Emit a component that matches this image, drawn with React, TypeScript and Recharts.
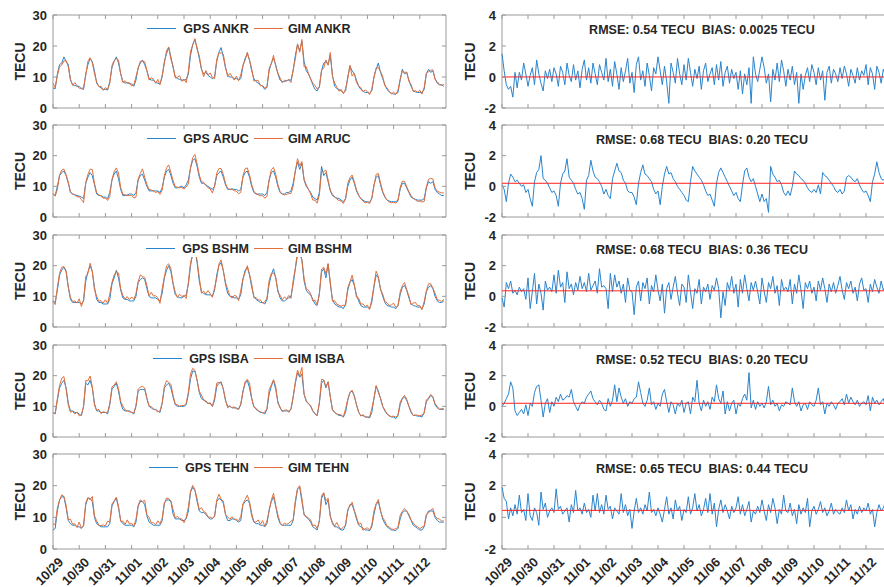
import React from 'react';
import { LineChart, Line, XAxis, YAxis, ReferenceArea, ReferenceLine, Legend } from 'recharts';

const stations = ['ANKR', 'ARUC', 'BSHM', 'ISBA', 'TEHN'];
const dateLabels = ['10/29', '10/30', '10/31', '11/01', '11/02', '11/03', '11/04', '11/05', '11/06', '11/07', '11/08', '11/09', '11/10', '11/11', '11/12'];
const rmseText = ['0.54', '0.68', '0.68', '0.52', '0.65'];
const biasText = ['0.0025', '0.20', '0.36', '0.20', '0.44'];
const biasValues = [0.0025, 0.2, 0.36, 0.2, 0.44];

// GPS TEC, every 2 hours (one line per day)
const gpsANKR = [
  6.5, 6.2, 11.0, 14.0, 14.5, 16.5, 15.0, 14.0, 9.0, 7.5, 7.3, 7.0,
  7.0, 6.2, 6.0, 11.0, 14.0, 16.0, 15.0, 12.0, 8.0, 7.0, 6.5, 6.0,
  6.0, 5.8, 8.5, 13.0, 15.0, 16.5, 14.5, 11.0, 8.5, 8.0, 8.2, 7.8,
  7.8, 7.0, 9.0, 13.0, 14.5, 15.5, 14.0, 12.0, 9.5, 9.0, 9.0, 8.2,
  8.0, 7.8, 10.0, 15.0, 17.5, 19.5, 16.5, 13.0, 10.0, 9.5, 9.2, 9.0,
  9.0, 9.2, 11.0, 17.0, 20.5, 22.0, 19.5, 16.0, 12.5, 11.0, 11.5, 10.5,
  10.0, 9.5, 10.0, 15.0, 18.0, 19.5, 16.5, 13.0, 10.5, 10.0, 10.0, 9.5,
  9.5, 9.0, 9.5, 13.5, 16.0, 17.5, 15.5, 12.0, 9.5, 8.5, 8.0, 7.5,
  7.0, 6.0, 7.0, 12.0, 14.5, 16.0, 14.0, 11.0, 9.0, 8.5, 8.5, 8.8,
  9.0, 9.0, 12.0, 17.0, 20.5, 18.5, 21.5, 15.0, 12.0, 11.0, 9.5, 7.5,
  6.0, 5.5, 7.0, 12.0, 14.5, 15.0, 14.0, 17.0, 10.5, 7.0, 6.3, 6.0,
  5.5, 4.8, 5.5, 10.0, 13.5, 12.0, 11.0, 9.0, 7.0, 6.0, 5.5, 5.0,
  5.0, 4.8, 5.5, 10.0, 12.5, 14.5, 11.5, 9.5, 7.5, 6.0, 5.2, 4.8,
  4.5, 4.5, 5.0, 9.0, 12.5, 11.0, 11.5, 9.0, 7.0, 5.5, 5.2, 5.0,
  5.0, 5.0, 6.0, 11.0, 12.5, 11.5, 12.0, 9.5, 8.0, 7.5, 7.5, 7.0,
];
const gpsARUC = [
  7.5, 7.0, 10.0, 13.5, 14.5, 15.0, 13.5, 11.0, 8.0, 7.5, 7.2, 7.0,
  6.8, 6.5, 6.0, 11.0, 13.0, 14.5, 13.5, 10.5, 7.5, 7.0, 7.0, 6.5,
  6.5, 6.0, 8.0, 12.0, 14.0, 15.0, 12.5, 9.0, 7.0, 7.0, 7.2, 7.5,
  7.5, 7.0, 8.0, 12.0, 13.5, 14.0, 12.0, 10.0, 8.5, 8.5, 8.5, 8.5,
  8.5, 8.0, 9.5, 13.0, 15.0, 15.5, 13.5, 11.0, 9.5, 9.5, 9.8, 10.0,
  9.5, 10.5, 12.0, 16.0, 18.5, 19.0, 16.5, 13.0, 11.0, 11.0, 10.5, 10.0,
  9.5, 9.0, 10.0, 13.5, 14.5, 15.0, 13.0, 10.5, 9.0, 9.0, 9.2, 9.0,
  9.0, 8.5, 9.0, 13.0, 14.5, 15.0, 13.0, 10.0, 8.0, 7.5, 7.5, 7.5,
  7.5, 7.0, 8.0, 12.0, 14.5, 15.0, 13.0, 10.0, 8.0, 7.5, 7.5, 8.0,
  8.0, 8.5, 11.0, 15.0, 18.0, 15.5, 17.5, 12.0, 10.0, 9.0, 8.0, 6.5,
  6.0, 5.5, 8.0, 16.5, 13.5, 14.5, 11.5, 8.5, 7.0, 6.5, 6.2, 6.0,
  5.5, 5.0, 6.0, 10.0, 12.0, 13.0, 11.0, 8.5, 7.0, 6.0, 5.5, 5.0,
  5.0, 4.8, 6.0, 10.5, 13.0, 13.5, 10.5, 8.0, 6.5, 5.5, 5.2, 5.0,
  5.0, 5.0, 5.5, 9.0, 11.0, 11.0, 9.5, 8.0, 6.5, 6.0, 5.8, 5.5,
  5.5, 5.5, 6.0, 9.5, 11.5, 11.0, 11.5, 9.0, 8.0, 7.5, 7.0, 7.0,
];
const gpsBSHM = [
  8.5, 8.0, 12.0, 17.0, 18.5, 19.5, 18.0, 13.0, 9.0, 8.0, 8.0, 8.0,
  8.0, 7.5, 8.5, 15.0, 18.0, 20.0, 18.0, 13.0, 9.0, 8.0, 8.0, 7.5,
  7.5, 7.5, 9.0, 14.0, 16.0, 18.5, 16.0, 12.0, 9.5, 9.0, 9.0, 8.5,
  8.5, 8.5, 10.0, 14.5, 15.5, 16.0, 15.5, 12.5, 10.0, 9.5, 9.5, 9.5,
  9.0, 8.5, 11.0, 16.0, 18.5, 20.0, 18.0, 14.0, 10.5, 10.0, 9.5, 9.5,
  10.0, 10.5, 14.0, 20.0, 24.0, 25.0, 21.0, 15.0, 11.5, 11.0, 10.5, 10.5,
  10.5, 10.0, 12.0, 17.0, 20.0, 21.0, 18.5, 14.0, 11.0, 10.0, 10.0, 9.5,
  9.5, 9.0, 10.5, 15.5, 18.5, 19.5, 17.0, 13.0, 10.0, 9.0, 8.5, 8.0,
  8.0, 7.5, 9.0, 14.0, 17.0, 19.0, 16.0, 12.0, 9.5, 8.5, 8.5, 9.0,
  9.5, 10.0, 14.0, 19.0, 23.5, 24.0, 22.0, 15.0, 12.0, 11.0, 10.5, 9.0,
  7.5, 7.0, 11.0, 18.0, 19.0, 16.0, 20.5, 14.0, 9.0, 7.5, 7.0, 6.5,
  6.5, 6.0, 7.5, 12.0, 14.5, 15.5, 13.5, 10.5, 8.5, 7.0, 6.5, 6.5,
  6.5, 6.0, 8.0, 13.0, 17.0, 16.0, 12.5, 10.0, 8.0, 7.0, 6.8, 6.5,
  6.5, 6.0, 7.0, 10.5, 13.0, 13.5, 12.0, 9.5, 7.5, 7.0, 6.8, 6.5,
  6.5, 6.0, 7.5, 11.5, 13.0, 13.5, 12.5, 10.0, 8.5, 8.0, 8.0, 8.5,
];
const gpsISBA = [
  8.0, 7.5, 12.0, 16.0, 17.5, 18.5, 16.0, 11.0, 8.5, 8.5, 8.0, 8.0,
  7.5, 7.0, 10.0, 17.5, 17.0, 18.5, 16.0, 11.0, 8.5, 8.5, 8.0, 8.0,
  8.0, 7.5, 10.5, 15.5, 16.5, 17.5, 15.0, 11.0, 9.0, 8.5, 8.5, 8.5,
  8.0, 7.5, 10.0, 15.0, 15.5, 15.5, 15.5, 12.5, 10.0, 9.5, 9.0, 9.0,
  8.5, 8.0, 11.0, 16.0, 17.0, 17.5, 16.0, 13.0, 10.5, 10.0, 10.0, 10.0,
  10.0, 10.5, 14.0, 19.0, 21.5, 21.5, 18.5, 14.5, 12.5, 12.0, 11.5, 11.0,
  11.0, 10.0, 12.0, 16.5, 17.5, 18.0, 15.5, 12.0, 10.0, 10.0, 9.5, 9.5,
  9.5, 9.0, 10.5, 15.0, 17.5, 18.5, 16.0, 12.5, 10.0, 9.0, 8.5, 8.0,
  8.0, 7.5, 9.0, 14.0, 16.5, 18.5, 15.5, 11.5, 9.5, 8.5, 8.5, 8.5,
  8.5, 9.0, 13.0, 17.5, 21.0, 19.5, 20.5, 14.0, 11.5, 11.0, 10.0, 8.5,
  7.5, 7.0, 11.0, 17.5, 18.5, 16.0, 18.0, 13.0, 9.0, 8.0, 7.5, 7.0,
  7.0, 6.5, 8.0, 12.0, 14.5, 15.0, 13.5, 10.5, 8.0, 7.0, 7.0, 6.5,
  6.5, 6.2, 8.0, 12.5, 16.5, 15.0, 12.5, 10.0, 8.5, 7.5, 7.0, 6.5,
  6.5, 6.0, 7.0, 10.5, 12.5, 13.0, 12.0, 10.0, 8.0, 7.0, 7.0, 6.8,
  6.8, 6.5, 8.0, 11.5, 12.5, 13.5, 13.0, 10.5, 9.5, 9.0, 9.0, 9.0,
];
const gpsTEHN = [
  6.0, 6.5, 12.0, 15.5, 16.5, 16.5, 13.0, 9.0, 8.0, 7.5, 7.5, 7.0,
  7.0, 6.5, 7.5, 14.0, 16.0, 16.0, 15.0, 10.0, 8.0, 7.5, 7.0, 7.0,
  7.0, 7.0, 8.0, 13.5, 15.0, 16.0, 13.0, 9.0, 8.0, 7.5, 7.5, 7.5,
  7.5, 7.0, 8.5, 13.5, 15.0, 15.0, 14.0, 10.5, 8.5, 8.0, 7.5, 7.5,
  7.5, 7.5, 9.0, 14.5, 15.5, 15.5, 15.0, 11.0, 9.5, 9.5, 9.5, 9.0,
  9.0, 9.5, 12.0, 18.0, 19.5, 18.5, 15.0, 12.0, 11.5, 11.5, 11.0, 10.0,
  9.5, 9.5, 10.5, 15.0, 16.0, 15.5, 14.5, 11.0, 9.0, 9.0, 9.5, 9.5,
  9.0, 8.5, 9.0, 14.0, 15.0, 15.5, 14.5, 10.5, 8.5, 8.0, 8.0, 7.5,
  7.5, 7.0, 8.0, 12.5, 15.0, 16.5, 13.5, 10.0, 8.0, 7.5, 7.5, 7.5,
  7.5, 7.5, 9.0, 14.5, 19.0, 19.5, 15.0, 11.0, 10.0, 9.5, 8.5, 7.0,
  6.5, 6.0, 9.0, 16.0, 17.5, 14.0, 15.5, 10.5, 8.0, 7.0, 7.0, 6.5,
  6.0, 6.0, 7.5, 12.0, 14.0, 14.0, 12.0, 9.5, 7.5, 7.0, 6.5, 6.0,
  6.0, 5.8, 7.0, 11.0, 14.0, 15.0, 12.0, 9.5, 8.0, 7.0, 6.5, 6.0,
  6.0, 5.8, 6.5, 9.5, 11.5, 12.0, 12.0, 10.5, 9.0, 7.5, 7.0, 6.5,
  6.0, 6.0, 7.0, 10.5, 12.0, 12.0, 12.0, 10.0, 9.0, 8.5, 8.5, 8.5,
];

// GIM minus GPS, every 2 hours (one line per day)
const diffANKR = [
  1.5, 0.4, -0.5, -0.8, -0.6, -1.3, 0.3, -0.7, 0.3, -0.2, 0.9, 0.2,
  -0.6, 0.1, 0.6, -0.5, 1.1, 0.2, -0.4, -0.9, 0.4, -0.1, 0.5, -0.3,
  0.6, 0.2, -0.6, 0.7, 0.3, -0.5, 0.9, 0.1, -0.3, 0.8, -0.2, 0.4,
  -0.7, 0.5, 1.1, -0.2, 0.6, -0.4, 0.9, 0.2, -0.5, 0.8, 0.3, -0.2,
  1.2, -0.3, 0.5, -0.6, 1.0, 0.2, -0.8, 0.6, -0.3, 0.4, 1.2, -0.4,
  0.3, -1.0, 0.8, 1.3, -0.2, 0.4, -0.6, 0.9, 0.1, -0.9, 0.6, 0.2,
  1.3, 0.4, -0.5, 0.7, -0.3, -1.7, 0.9, 0.3, -0.4, 1.2, 0.2, -0.5,
  0.8, -0.2, 1.2, 0.3, -0.6, 0.5, -0.1, 0.7, -0.8, 0.4, 0.9, -0.3,
  0.2, 0.6, -0.5, 0.8, -0.2, 1.0, -0.6, 0.3, 0.7, -0.4, 0.5, -0.1,
  0.3, -0.8, 0.4, -1.1, 0.2, -0.5, 0.6, -1.7, 1.3, 0.2, -0.3, 0.5,
  1.3, 0.6, -0.4, 0.2, -1.6, 0.5, -0.2, 0.9, -0.3, 1.1, 0.4, -0.6,
  0.5, -0.2, 0.7, -0.5, 0.3, -1.7, 0.2, -0.8, 0.1, 0.6, -0.3, 0.8,
  0.3, -0.5, 0.6, -0.2, 0.4, -1.5, 0.3, 0.7, -0.4, 0.5, 0.2, -0.3,
  0.6, -0.1, 0.7, 0.2, -0.6, 0.5, 0.1, -0.4, 0.6, -0.2, 0.4, 0.1,
  0.8, -0.5, 0.6, 0.2, -0.8, 0.7, 0.3, -0.4, 0.5, 0.1, -0.2, 0.6,
];
const diffARUC = [
  0.1, -0.2, -1.0, 0.2, 0.8, 0.6, 0.3, 0.4, 0.2, 0.0, 0.1, -0.4,
  -0.2, -0.8, -1.3, 0.3, 0.9, 1.1, 2.0, 0.5, 0.4, 0.2, -0.1, -0.4,
  -0.3, -0.6, -1.3, 0.2, 0.8, 1.0, 1.8, 0.6, 0.4, 0.2, -0.2, -0.5,
  -0.4, -0.8, -1.5, 0.4, 0.7, 1.7, 1.0, 0.6, 0.5, 0.3, 0.0, -0.5,
  -0.2, -0.6, -0.8, 0.5, 1.0, 1.5, 1.0, 0.9, 0.4, 0.2, -0.3, -0.4,
  -0.4, -0.7, -1.2, 0.2, 0.9, 1.4, 0.8, 0.7, 0.5, 0.3, -0.2, -0.5,
  -0.3, -1.2, 0.0, 0.8, 1.3, 0.8, 0.9, 0.5, 0.3, 0.0, -0.2, -0.4,
  -0.6, -0.9, -1.0, 0.3, 1.3, 1.0, 0.8, 0.6, 0.4, 0.1, -0.3, -0.6,
  -0.5, -0.9, -1.3, 0.2, 0.9, 1.2, 0.9, 0.6, 0.3, 0.0, -0.3, -0.6,
  -0.4, -0.8, -1.0, 0.1, 1.0, 1.2, 0.6, 0.3, 0.5, 0.0, -0.5, -1.0,
  -0.5, -1.0, -0.8, -1.7, 1.3, 0.8, 0.6, 0.3, 0.4, 0.1, -0.4, -0.6,
  -0.3, -0.6, 0.0, 1.0, 0.8, 0.7, 0.5, 0.4, 0.2, -0.1, -0.3, -0.4,
  -0.2, -0.4, 0.1, -0.5, 0.9, 0.7, 0.6, 0.4, 0.2, 0.0, -0.3, -0.4,
  -0.2, -0.5, -0.3, 0.6, 0.7, 0.6, 0.4, 0.3, 0.5, 0.1, -0.2, -0.4,
  -0.3, -0.6, -1.0, 0.3, 0.8, 1.6, 0.9, 0.5, 0.4, 0.6, 0.9, 0.8,
];
const diffBSHM = [
  -0.1, -0.7, 0.9, 0.5, 1.0, 0.2, 0.4, 0.1, 0.6, 0.3, 0.5, -0.2,
  1.2, -0.8, 0.3, 1.5, -0.5, 0.8, 0.2, -0.9, 1.0, 0.4, 0.6, 0.3,
  1.4, 0.2, 1.7, 0.6, 0.9, -0.4, 1.6, 0.5, 0.8, 0.1, 0.9, 0.4,
  1.3, 0.5, 0.9, 0.3, 1.5, 0.4, 0.7, 1.0, 0.2, 1.8, 0.6, 0.7,
  0.5, -0.8, 1.5, 0.3, 1.4, 0.6, 1.0, 0.2, 0.8, -0.4, 1.2, 0.4,
  0.3, -1.2, 0.6, 1.0, -0.3, 0.9, 0.5, 1.2, -0.5, 0.7, 0.3, 1.4,
  0.4, -0.3, 0.8, -1.1, 0.5, 0.9, -0.2, 0.6, 1.3, 0.2, -0.6, 0.8,
  0.6, -0.4, 1.4, 0.3, -0.8, 0.5, 0.2, 1.1, -0.5, 0.6, 0.3, 0.8,
  -0.2, 0.7, 0.4, 1.2, 0.5, -1.4, 0.3, -0.6, 0.9, 0.4, 1.3, 0.2,
  0.8, -0.7, 1.1, 0.2, 1.4, 0.5, -0.3, 0.9, 0.4, 1.0, 0.3, -0.5,
  1.2, 0.3, -0.4, 0.9, 0.5, 1.3, 0.2, 0.7, -0.6, 1.1, 0.4, 0.6,
  0.3, 1.1, -0.5, 0.8, 0.2, 1.4, 0.4, -0.8, 0.9, 0.5, 1.0, 0.2,
  0.6, -0.3, 1.0, 0.4, 1.2, 0.5, -0.4, 0.8, 0.3, 0.9, 0.2, 0.7,
  1.3, 0.4, -0.2, 0.9, 0.5, 1.0, 0.2, 0.6, -0.3, 0.8, 1.2, 0.4,
  0.5, -0.4, 0.8, 0.3, 1.1, 0.6, 0.2, 1.0, 0.4, 0.7, 0.3, 0.5,
];
const diffISBA = [
  0.0, 0.2, 0.5, 0.8, 1.6, 1.2, -0.3, -0.6, -0.4, -0.2, -0.5, 0.1,
  -0.6, 0.2, 0.0, 0.9, 1.3, 1.4, 0.4, -0.7, 0.2, 0.5, -0.4, 0.3,
  0.0, 0.6, 0.3, 0.8, 0.4, 0.5, 0.7, 0.6, 1.1, 0.3, 0.0, -0.3,
  0.1, 0.3, 0.2, 0.6, 0.8, 1.0, 0.5, 0.3, 0.1, 0.4, 0.2, -0.2,
  -0.3, 0.5, 0.0, 0.4, 1.4, 0.3, 1.2, 0.6, 0.2, 0.5, 0.0, 0.3,
  0.2, 0.5, 0.6, 1.6, 0.9, 0.2, 0.0, 0.4, 1.2, 0.1, 0.3, -0.2,
  0.2, 0.0, 0.8, 1.1, 0.3, -0.4, 0.3, 0.1, -0.5, 0.2, 0.0, 0.4,
  -0.4, 0.2, 0.3, -0.5, 0.6, 0.3, 1.7, 0.2, -0.3, 0.4, 0.0, 0.3,
  -0.2, 0.6, 0.3, 1.4, 0.5, 0.2, 1.0, -0.5, 0.3, -0.3, 0.2, 0.4,
  -0.5, 0.2, 0.0, 0.5, 0.8, 0.4, 2.2, -0.1, 0.4, -0.2, 0.3, 0.0,
  0.2, -0.1, 0.3, 1.3, 0.1, 0.4, 0.0, 0.2, -0.3, 0.1, 0.0, 0.3,
  0.2, 0.1, 1.2, 0.3, 0.0, 0.3, -0.3, 0.1, 0.2, -0.2, 0.3, 0.1,
  0.0, 0.4, 1.2, 0.1, 0.3, -0.5, 0.2, 0.0, 0.3, 0.1, -0.2, 0.2,
  0.3, 0.5, 0.1, 0.8, 0.2, 0.6, 0.3, 0.1, 0.4, 0.0, 0.2, 0.3,
  0.1, 0.7, -0.3, 0.6, 0.2, 0.4, 0.1, 0.3, 0.5, 0.0, 0.3, 0.2,
];
const diffTEHN = [
  1.9, 1.2, 1.0, -0.1, 0.6, 0.1, 0.8, 0.2, 1.4, 0.3, 0.5, -0.2,
  1.5, 0.1, -0.2, 0.6, 0.3, -0.5, 1.6, 0.5, 0.9, 0.0, 0.4, 0.6,
  0.3, 1.8, 0.5, 0.7, 0.2, 0.4, 0.6, -0.3, 0.8, 0.3, 1.7, 0.4,
  0.6, 0.2, 0.9, 0.3, 0.5, 0.0, 1.4, 0.4, 1.5, 0.3, 0.8, 0.2,
  1.4, 0.5, 0.7, -0.1, 0.6, 0.4, 0.2, 1.5, 0.3, 0.8, 0.1, 0.5,
  -0.7, 0.4, 1.2, 0.3, 0.6, 0.2, 0.8, 0.4, 1.6, 0.3, 0.5, 0.1,
  0.6, 0.2, -0.3, 0.5, 1.3, 0.2, 0.6, -0.1, 1.1, 0.4, 0.7, -0.2,
  0.5, 0.3, 1.3, 0.2, 0.6, 1.5, 0.4, 0.8, 0.1, 0.5, 1.2, 0.3,
  1.5, 0.2, 0.9, -0.6, 0.5, 1.1, 0.3, 0.8, 0.4, -0.1, 0.7, 0.3,
  0.6, 1.3, 0.2, 0.8, 0.1, 0.5, 1.0, -0.3, 0.4, 0.2, 0.7, 0.3,
  1.1, 0.4, -0.2, 0.8, 0.3, 1.2, 0.6, -0.4, 0.5, 0.2, 1.4, 0.4,
  0.3, 0.9, 0.1, 0.5, -0.4, 0.8, 0.2, 0.6, 0.3, 1.2, -0.6, 0.4,
  0.7, 0.2, 0.5, 1.0, 0.3, 0.6, 0.1, 0.4, 0.9, 0.2, 0.5, 0.3,
  0.2, 0.6, 0.3, 1.1, 0.4, 0.8, -0.1, 0.5, 0.2, 0.7, 0.3, 0.6,
  0.4, 0.9, 0.2, 0.5, -0.6, 0.3, 0.8, 0.4, 0.6, 1.0, 0.3, 0.4,
];

const gpsList = [gpsANKR, gpsARUC, gpsBSHM, gpsISBA, gpsTEHN];
const diffList = [diffANKR, diffARUC, diffBSHM, diffISBA, diffTEHN];

const ROW_TOP = [15, 125, 235, 345, 454];
const ROW_H = [93, 92, 92, 92, 95];
const LEFT_W = 393;
const RIGHT_W = 390;

const FONT = '"Liberation Sans", Arial, sans-serif';
const BOX = '#9a9a9a';
const TXT = '#262626';
const BLUE = '#2a84cc';
const ORANGE = '#e2703c';

const dayTicks = dateLabels.map((_, i) => i);

const makeXTick = (plotH: number, showLabel: boolean) => (props: any) => {
  const { x, y, payload } = props;
  const lx = x + 11;
  const ly = y + 14;
  return (
    <g>
      <line x1={x} y1={y} x2={x} y2={y - 4} stroke={BOX} />
      <line x1={x} y1={y - plotH} x2={x} y2={y - plotH + 4} stroke={BOX} />
      {showLabel && (
        <text x={lx} y={ly} textAnchor="end" transform={`rotate(-45 ${lx} ${ly})`}
          fontFamily={FONT} fontWeight="bold" fontSize={13} fill={TXT}>
          {dateLabels[payload.value]}
        </text>
      )}
    </g>
  );
};

const makeYTick = (plotW: number) => (props: any) => {
  const { x, y, payload } = props;
  return (
    <g>
      <line x1={x} y1={y} x2={x + 4} y2={y} stroke={BOX} />
      <line x1={x + plotW} y1={y} x2={x + plotW - 4} y2={y} stroke={BOX} />
      <text x={x - 6} y={y} dy="0.36em" textAnchor="end"
        fontFamily={FONT} fontWeight="bold" fontSize={13} fill={TXT}>
        {payload.value}
      </text>
    </g>
  );
};

const YLabel = (props: any) => {
  const { viewBox, cx } = props;
  const x = viewBox.x + cx;
  const y = viewBox.y + viewBox.height / 2;
  return (
    <text x={x} y={y} textAnchor="middle" dy="0.36em" transform={`rotate(-90 ${x} ${y})`}
      fontFamily={FONT} fontWeight="bold" fontSize={14} fill={TXT}>
      TECU
    </text>
  );
};

const lineSample = (color: string) => (
  <svg width={29} height={3} style={{ display: 'block' }}>
    <line x1={0} y1={1.5} x2={29} y2={1.5} stroke={color} strokeWidth={1} shapeRendering="crispEdges" />
  </svg>
);

const StationLegend = ({ name }: { name: string }) => (
  <div style={{ display: 'flex', alignItems: 'center', justifyContent: 'center', height: 17,
    fontFamily: FONT, fontWeight: 'bold', fontSize: 12.5, color: TXT, whiteSpace: 'nowrap' }}>
    {lineSample(BLUE)}
    <span style={{ marginLeft: 7, marginRight: 5 }}>GPS {name}</span>
    {lineSample(ORANGE)}
    <span style={{ marginLeft: 5 }}>GIM {name}</span>
  </div>
);

const StatsText = ({ i }: { i: number }) => (
  <div style={{ textAlign: 'center', height: 17, lineHeight: '17px',
    fontFamily: FONT, fontWeight: 'bold', fontSize: 12.5, color: TXT, whiteSpace: 'pre' }}>
    {`RMSE: ${rmseText[i]} TECU  BIAS: ${biasText[i]} TECU`}
  </div>
);

const App: React.FC = () => {
  return (
    <div style={{ position: 'absolute', left: 0, top: 0, width: 884, height: 587, overflow: 'hidden', background: '#fff' }}>
      {stations.map((name, i) => {
        const gps = gpsList[i];
        const diff = diffList[i];
        const data = gps.map((v, k) => ({
          t: k / 12,
          gps: v,
          gim: Math.round((v + diff[k]) * 100) / 100,
          diff: diff[k],
        }));
        const last = i === stations.length - 1;
        const plotH = ROW_H[i];
        const xh = last ? 45 : 10;
        const h = 10 + plotH + xh;
        return (
          <React.Fragment key={name}>
            <div style={{ position: 'absolute', left: 0, top: ROW_TOP[i] - 10 }}>
              <LineChart width={460} height={h} data={data} margin={{ top: 10, right: 14, bottom: 0, left: 0 }}>
                <XAxis dataKey="t" type="number" domain={[0, 15]} ticks={dayTicks} interval={0}
                  height={xh} tickSize={0} tickMargin={0} axisLine={false} tickLine={false}
                  tick={makeXTick(plotH, last)} />
                <YAxis type="number" domain={[0, 30]} ticks={[0, 10, 20, 30]} width={53}
                  tickSize={0} tickMargin={0} axisLine={false} tickLine={false}
                  tick={makeYTick(LEFT_W)} label={<YLabel cx={20} />} />
                <ReferenceArea x1={0} x2={15} y1={0} y2={30} fill="none" stroke={BOX} strokeOpacity={1} />
                <Line dataKey="gps" stroke={BLUE} strokeWidth={1} dot={false} isAnimationActive={false} />
                <Line dataKey="gim" stroke={ORANGE} strokeWidth={1} dot={false} isAnimationActive={false} />
                <Legend layout="horizontal" verticalAlign="middle" align="center"
                  wrapperStyle={{ top: 15, left: 143, width: 212, height: 17, background: '#fff' }}
                  content={() => <StationLegend name={name} />} />
              </LineChart>
            </div>
            <div style={{ position: 'absolute', left: 440, top: ROW_TOP[i] - 10 }}>
              <LineChart width={452} height={h} data={data} margin={{ top: 10, right: 0, bottom: 0, left: 0 }}>
                <XAxis dataKey="t" type="number" domain={[0, 15]} ticks={dayTicks} interval={0}
                  height={xh} tickSize={0} tickMargin={0} axisLine={false} tickLine={false}
                  tick={makeXTick(plotH, last)} />
                <YAxis type="number" domain={[-2, 4]} ticks={[-2, 0, 2, 4]} width={62}
                  tickSize={0} tickMargin={0} axisLine={false} tickLine={false}
                  tick={makeYTick(RIGHT_W)} label={<YLabel cx={30} />} />
                <ReferenceArea x1={0} x2={15} y1={-2} y2={4} fill="none" stroke={BOX} strokeOpacity={1} />
                <Line dataKey="diff" stroke={BLUE} strokeWidth={1} dot={false} isAnimationActive={false} />
                <ReferenceLine y={biasValues[i]} stroke="#ff2020" strokeWidth={1} />
                <Legend layout="horizontal" verticalAlign="middle" align="center"
                  wrapperStyle={{ top: 17, left: 62, width: 400, height: 17 }}
                  content={() => <StatsText i={i} />} />
              </LineChart>
            </div>
          </React.Fragment>
        );
      })}
    </div>
  );
};

export default App;
